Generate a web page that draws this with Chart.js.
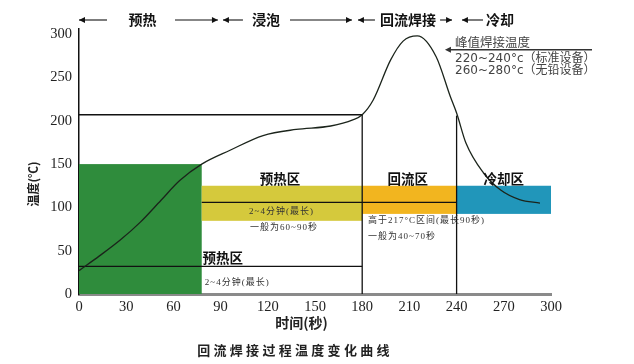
<!DOCTYPE html>
<html>
<head>
<meta charset="utf-8">
<script src="https://cdn.jsdelivr.net/npm/chart.js@4"></script>
<style>
  html, body { margin: 0; padding: 0; background: #fff; }
  canvas { display: block; }
</style>
</head>
<body>
<canvas id="reflowChart" width="634" height="364"></canvas>
<script>
// temperature profile (seconds / °C)
const timeSec = [0, 13, 26, 39, 52, 64, 78, 96, 117, 138, 160, 174, 180, 187, 198, 206, 215, 227, 236, 240, 246, 257, 268, 280, 293];
const tempC   = [27, 44, 62, 83, 108, 131, 150, 166, 183, 190, 194, 201, 207, 224, 270, 292, 298, 274, 228, 209, 174, 140, 120, 109, 105];

const xTicks = [0, 30, 60, 90, 120, 150, 180, 210, 240, 270, 300];
const yTicks = [0, 50, 100, 150, 200, 250, 300];

// coloured zones
const zoneNames  = ["升温", "预热区", "回流区", "冷却区"];
const zoneFrom   = [0, 78, 180, 240];
const zoneTo     = [78, 180, 240, 300];
const zoneLow    = [0, 84.5, 92.5, 92.5];
const zoneHigh   = [150, 125, 125, 125];
const zoneColors = ["#2f8c3c", "#d5c93c", "#f2b51f", "#2196ba"];

// thin black guide lines: x1, y1, x2, y2
const guideLines = [
  [0, 207, 180, 207],
  [0, 32, 180, 32],
  [78, 105.7, 240, 105.7],
  [180, 0, 180, 207],
  [240, 0, 240, 206]
];

const phaseNames = ["预热", "浸泡", "回流焊接", "冷却"];
const peakNotes  = ["峰值焊接温度", "220~240°c（标准设备）", "260~280°c（无铅设备）"];

const CJK = '"Noto Sans CJK SC", sans-serif';
const SMALL = '9px "Liberation Serif", "Noto Sans CJK SC", serif';

function arrowHead(ctx, x, y, dir) {
  ctx.beginPath();
  ctx.moveTo(x, y);
  ctx.lineTo(x - dir * 6, y - 3);
  ctx.lineTo(x - dir * 6, y + 3);
  ctx.closePath();
  ctx.fill();
}

function text(ctx, str, x, y, font, color, align, spacing) {
  ctx.font = font;
  ctx.fillStyle = color;
  ctx.textAlign = align || "center";
  ctx.textBaseline = "middle";
  ctx.letterSpacing = spacing || "0px";
  ctx.fillText(str, x, y);
  ctx.letterSpacing = "0px";
}

const profilePlugin = {
  id: "profile",
  beforeDatasetsDraw(chart) {
    const { ctx, scales: { x, y } } = chart;
    ctx.save();
    zoneFrom.forEach((f, i) => {
      const x1 = x.getPixelForValue(f), x2 = x.getPixelForValue(zoneTo[i]);
      const y1 = y.getPixelForValue(zoneHigh[i]), y2 = y.getPixelForValue(zoneLow[i]);
      ctx.fillStyle = zoneColors[i];
      ctx.fillRect(x1, y1, x2 - x1, y2 - y1);
    });
    ctx.strokeStyle = "#111";
    ctx.lineWidth = 1.3;
    guideLines.forEach(g => {
      ctx.beginPath();
      ctx.moveTo(x.getPixelForValue(g[0]), y.getPixelForValue(g[1]));
      ctx.lineTo(x.getPixelForValue(g[2]), y.getPixelForValue(g[3]));
      ctx.stroke();
    });
    ctx.restore();
  },
  afterDraw(chart) {
    const { ctx, scales: { x, y } } = chart;
    const px = v => x.getPixelForValue(v);
    const py = v => y.getPixelForValue(v);
    ctx.save();

    // phase header with arrows
    const hy = 20;
    const segs = [
      { l: [0, 17.8], t: 40.4, r: [61, 88.3] },
      { l: [91.5, 104.2], t: 118.9, r: [134.1, 173.5] },
      { l: [177.3, 188.1], t: 209.1, r: [229.5, 237.1] },
      { l: [243.4, 256.8], t: 267.6, r: null }
    ];
    ctx.strokeStyle = "#111";
    ctx.lineWidth = 1.1;
    segs.forEach((s, i) => {
      ctx.beginPath();
      ctx.moveTo(px(s.l[0]), hy); ctx.lineTo(px(s.l[1]), hy);
      ctx.stroke();
      ctx.fillStyle = "#111";
      arrowHead(ctx, px(s.l[0]), hy, -1);
      if (s.r) {
        ctx.beginPath();
        ctx.moveTo(px(s.r[0]), hy); ctx.lineTo(px(s.r[1]), hy);
        ctx.stroke();
        ctx.fillStyle = "#111";
        arrowHead(ctx, px(s.r[1]), hy, 1);
      }
      text(ctx, phaseNames[i], px(s.t), hy, "bold 14px " + CJK, "#111");
    });

    // peak annotation
    ctx.strokeStyle = "#333";
    ctx.lineWidth = 1.5;
    ctx.beginPath();
    ctx.moveTo(592, py(282)); ctx.lineTo(px(232.6) + 4, py(282));
    ctx.stroke();
    ctx.fillStyle = "#333";
    arrowHead(ctx, px(232.6), py(282), -1);
    text(ctx, peakNotes[0], px(239), py(291), "12.5px " + CJK, "#444", "left");
    text(ctx, peakNotes[1], px(239), py(271.5), '12px "DejaVu Sans", ' + CJK, "#444", "left");
    text(ctx, peakNotes[2], px(239), py(257.5), '12px "DejaVu Sans", ' + CJK, "#444", "left");

    // zone labels
    const band = "bold 13.5px " + CJK;
    text(ctx, zoneNames[1], px(127.8), py(133), band, "#111");
    text(ctx, zoneNames[2], px(209), py(133), band, "#111");
    text(ctx, zoneNames[3], px(270), py(133), band, "#111");
    text(ctx, zoneNames[1], px(78.5), py(42), band, "#111", "left");

    // small notes
    text(ctx, "2~4分钟(最长)", px(128.7), py(95), SMALL, "#333", "center", "1px");
    text(ctx, "一般为60~90秒", px(130.3), py(76.5), SMALL, "#333", "center", "1px");
    text(ctx, "2~4分钟(最长)", px(80), py(13), SMALL, "#333", "left", "1px");
    text(ctx, "高于217°C区间(最长90秒)", px(183.7), py(84.5), SMALL, "#333", "left", "1px");
    text(ctx, "一般为40~70秒", px(183.7), py(66), SMALL, "#333", "left", "1px");

    // axis titles and caption
    ctx.save();
    ctx.translate(33, 184);
    ctx.rotate(-Math.PI / 2);
    text(ctx, "温度(℃)", 0, 0, "bold 12px " + CJK, "#222");
    ctx.restore();
    text(ctx, "时间(秒)", px(141.4), 323, "bold 14px " + CJK, "#222");
    text(ctx, "回流焊接过程温度变化曲线", px(137.3), 350, "bold 13px " + CJK, "#222", "center", "3.3px");

    ctx.restore();
  }
};

new Chart(document.getElementById("reflowChart"), {
  type: "line",
  data: {
    datasets: [{
      data: timeSec.map((t, i) => ({ x: t, y: tempC[i] })),
      borderColor: "#1b241b",
      borderWidth: 1.3,
      pointRadius: 0,
      cubicInterpolationMode: "monotone",
      fill: false
    }]
  },
  options: {
    responsive: false,
    animation: false,
    layout: { padding: { top: 29, right: 83, left: 0, bottom: 0 } },
    plugins: {
      legend: { display: false },
      tooltip: { enabled: false }
    },
    scales: {
      x: {
        type: "linear",
        min: 0,
        max: 300,
        afterBuildTicks: s => { s.ticks = xTicks.map(v => ({ value: v })); },
        afterFit: s => { s.height = 70; },
        grid: { display: false, drawTicks: false },
        border: { color: "#8a8a8a", width: 3 },
        ticks: {
          padding: 4,
          color: "#222",
          font: { family: '"Liberation Serif", serif', size: 14.5 }
        }
      },
      y: {
        min: 0,
        max: 306,
        afterBuildTicks: s => { s.ticks = yTicks.map(v => ({ value: v })); },
        afterFit: s => { s.width = 79; },
        grid: { display: false, drawTicks: false },
        border: { color: "#111", width: 1.5 },
        ticks: {
          padding: 7,
          color: "#222",
          font: { family: '"Liberation Serif", serif', size: 14.5 }
        }
      }
    }
  },
  plugins: [profilePlugin]
});
</script>
</body>
</html>
